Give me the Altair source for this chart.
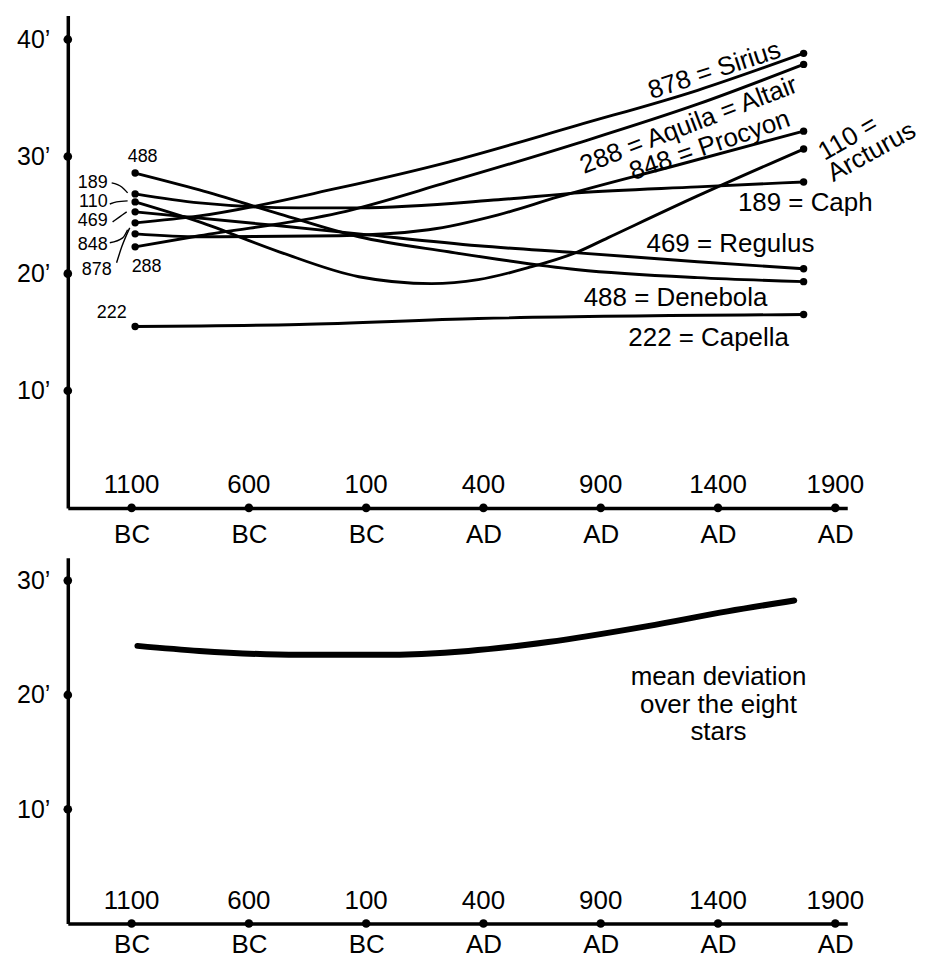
import altair as alt
import pandas as pd

FONT = "Liberation Sans"

# ---------------- axis data ----------------
YEAR_TICKS = [-1100, -600, -100, 400, 900, 1400, 1900]
TICK_NUMBERS = ["1100", "600", "100", "400", "900", "1400", "1900"]
TOP_Y_TICKS = [10, 20, 30, 40]
BOTTOM_Y_TICKS = [10, 20, 30]

# ---------------- star series (year, deviation in arc-minutes) ----------------
sirius_years = [-1085, -811, -216, 251, 803, 1313, 1765]
sirius_vals = [24.34, 24.93, 27.32, 29.53, 32.68, 35.66, 38.81]

altair_years = [-1085, -811, -216, 251, 803, 1313, 1765]
altair_vals = [22.29, 23.24, 25.19, 27.83, 31.15, 34.47, 37.87]

procyon_years = [-1085, -811, -216, 166, 463, 718, 1228, 1765]
procyon_vals = [23.40, 23.15, 23.24, 23.75, 25.02, 26.55, 29.28, 32.17]

arcturus_years = [-1085, -811, -471, -131, 179, 378, 591, 803, 930, 1313, 1765]
arcturus_vals = [26.13, 24.42, 21.87, 19.74, 19.15, 19.49, 20.51, 21.87, 23.06, 26.64, 30.64]

caph_years = [-1085, -811, -386, -131, 463, 803, 1313, 1765]
caph_vals = [26.81, 26.04, 25.62, 25.62, 26.31, 26.90, 27.41, 27.83]

regulus_years = [-1085, -471, -131, 378, 803, 1313, 1765]
regulus_vals = [25.28, 24.09, 23.40, 22.38, 21.78, 21.02, 20.42]

denebola_years = [-1085, -811, -471, -131, 251, 803, 1313, 1765]
denebola_vals = [28.59, 27.15, 25.11, 23.15, 21.87, 20.34, 19.66, 19.32]

capella_years = [-1085, -386, 378, 1765]
capella_vals = [15.49, 15.66, 16.17, 16.51]

# mean deviation over the eight stars
mean_years = [-1075, -811, -386, -46, 336, 676, 1100, 1440, 1725]
mean_vals = [24.29, 23.85, 23.51, 23.51, 23.85, 24.63, 26.02, 27.31, 28.26]

stars = [
    ("878", sirius_years, sirius_vals),
    ("288", altair_years, altair_vals),
    ("848", procyon_years, procyon_vals),
    ("110", arcturus_years, arcturus_vals),
    ("189", caph_years, caph_vals),
    ("469", regulus_years, regulus_vals),
    ("488", denebola_years, denebola_vals),
    ("222", capella_years, capella_vals),
]

# labels at the right end of the curves
right_labels = ["878 = Sirius", "288 = Aquila = Altair", "848 = Procyon", "110 =", "Arcturus",
                "189 = Caph", "469 = Regulus", "488 = Denebola", "222 = Capella"]
right_label_years = [1385, 1275, 1365, 1955, 2055, 1772, 1453, 1219, 1360]
right_label_vals = [37.36, 32.68, 30.95, 31.57, 30.39, 26.04, 22.55, 17.96, 14.47]
right_label_angles = [342, 339, 341, 330, 331, 0, 0, 0, 0]

# small catalogue-number labels at the left
left_right_aligned = ["189", "110", "469", "848", "878"]
left_right_years = [-1202, -1202, -1202, -1202, -1185]
left_right_vals = [27.75, 26.13, 24.51, 22.47, 20.34]
left_centered = ["488", "288", "222"]
left_centered_years = [-1053, -1036, -1185]
left_centered_vals = [29.96, 20.60, 16.60]

# little connector strokes from the left labels to the start points
conn_ids = ["189"] * 3 + ["110"] * 3 + ["469"] * 3 + ["848"] * 3 + ["878"] * 3
conn_years = [-1185, -1142, -1117, -1193, -1164, -1117, -1181, -1151, -1121,
              -1193, -1138, -1117, -1164, -1142, -1108]
conn_vals = [27.75, 27.40, 26.90, 25.95, 26.13, 26.22, 24.42, 24.85, 25.28,
             22.64, 23.06, 23.75, 20.93, 22.29, 23.91]

mean_text = "mean deviation\nover the eight\nstars"
mean_text_year = 1402
mean_text_val = 21.6

# ---------------- tables ----------------
rows = []
ends = []
for name, ys, vs in stars:
    for i, (yr, v) in enumerate(zip(ys, vs)):
        rows.append({"star": name, "year": yr, "value": v, "ord": i})
    ends.append({"star": name, "year": ys[0], "value": vs[0]})
    ends.append({"star": name, "year": ys[-1], "value": vs[-1]})
lines_df = pd.DataFrame(rows)
ends_df = pd.DataFrame(ends)

xdots_df = pd.DataFrame({"year": YEAR_TICKS, "value": [0] * len(YEAR_TICKS), "label": TICK_NUMBERS})
ydots_top_df = pd.DataFrame({"value": TOP_Y_TICKS})
ydots_bot_df = pd.DataFrame({"value": BOTTOM_Y_TICKS})

right_df = pd.DataFrame({"year": right_label_years, "value": right_label_vals,
                         "label": right_labels, "angle": right_label_angles})
left_r_df = pd.DataFrame({"year": left_right_years, "value": left_right_vals, "label": left_right_aligned})
left_c_df = pd.DataFrame({"year": left_centered_years, "value": left_centered_vals, "label": left_centered})
conn_df = pd.DataFrame({"id": conn_ids, "year": conn_years, "value": conn_vals,
                        "ord": [0, 1, 2] * 5})
mean_df = pd.DataFrame({"year": mean_years, "value": mean_vals, "ord": list(range(len(mean_years)))})
mean_text_df = pd.DataFrame({"year": [mean_text_year], "value": [mean_text_val], "label": [mean_text]})

# ---------------- scales & axes ----------------
x_scale = alt.Scale(domain=[-1372, 1951], nice=False, zero=False)
top_y_scale = alt.Scale(domain=[0, 42.04], nice=False, zero=False)
bot_y_scale = alt.Scale(domain=[0, 32], nice=False, zero=False)


def x_axis(pad):
    return alt.Axis(values=YEAR_TICKS, labelExpr="datum.value < 0 ? 'BC' : 'AD'",
                    ticks=False, grid=False, domainColor="black", domainWidth=3.5,
                    labelColor="black", labelFont=FONT, labelFontSize=26, labelPadding=pad,
                    title=None, labelOverlap=False, labelFlush=False)


def y_axis(vals):
    return alt.Axis(values=vals, labelExpr="datum.value + '\u2019'", ticks=False, grid=False,
                    domainColor="black", domainWidth=3.5, labelColor="black", labelFont=FONT,
                    labelFontSize=25, labelPadding=18, title=None)


X_TOP = alt.X("year:Q", scale=x_scale, axis=x_axis(14))
X_BOT = alt.X("year:Q", scale=x_scale, axis=x_axis(8))
Y_TOP = alt.Y("value:Q", scale=top_y_scale, axis=y_axis(TOP_Y_TICKS))
Y_BOT = alt.Y("value:Q", scale=bot_y_scale, axis=y_axis(BOTTOM_Y_TICKS))

W = 782

# ---------------- top panel ----------------
star_lines = alt.Chart(lines_df).mark_line(color="black", strokeWidth=2.9, interpolate="monotone").encode(
    x=X_TOP, y=Y_TOP, detail="star:N", order="ord:Q")
star_ends = alt.Chart(ends_df).mark_circle(color="black", size=55, opacity=1).encode(x=X_TOP, y=Y_TOP)
xdots_top = alt.Chart(xdots_df).mark_circle(color="black", size=75, opacity=1).encode(x=X_TOP, y=Y_TOP)
ydots_top = alt.Chart(ydots_top_df).mark_circle(color="black", size=75, opacity=1).encode(
    x=alt.value(0), y=Y_TOP)
nums_top = alt.Chart(xdots_df).mark_text(font=FONT, fontSize=26, color="black", dy=-15,
                                          baseline="alphabetic", align="center").encode(
    x=X_TOP, y=Y_TOP, text="label:N")
right_text = alt.Chart(right_df).mark_text(font=FONT, fontSize=26, color="black",
                                            align="center", baseline="middle").encode(
    x=X_TOP, y=Y_TOP, text="label:N", angle=alt.Angle("angle:Q", scale=None))
left_r_text = alt.Chart(left_r_df).mark_text(font=FONT, fontSize=18, color="black",
                                              align="right", baseline="middle").encode(
    x=X_TOP, y=Y_TOP, text="label:N")
left_c_text = alt.Chart(left_c_df).mark_text(font=FONT, fontSize=18, color="black",
                                              align="center", baseline="middle").encode(
    x=X_TOP, y=Y_TOP, text="label:N")
connectors = alt.Chart(conn_df).mark_line(color="black", strokeWidth=1.4, interpolate="monotone").encode(
    x=X_TOP, y=Y_TOP, detail="id:N", order="ord:Q")

top = alt.layer(star_lines, connectors, star_ends, xdots_top, ydots_top, nums_top,
                right_text, left_r_text, left_c_text).properties(width=W, height=494)

# ---------------- bottom panel ----------------
mean_line = alt.Chart(mean_df).mark_line(color="black", strokeWidth=6, strokeCap="round",
                                         interpolate="monotone").encode(x=X_BOT, y=Y_BOT, order="ord:Q")
xdots_bot = alt.Chart(xdots_df).mark_circle(color="black", size=75, opacity=1).encode(x=X_BOT, y=Y_BOT)
ydots_bot = alt.Chart(ydots_bot_df).mark_circle(color="black", size=75, opacity=1).encode(
    x=alt.value(0), y=Y_BOT)
nums_bot = alt.Chart(xdots_df).mark_text(font=FONT, fontSize=26, color="black", dy=-15,
                                          baseline="alphabetic", align="center").encode(
    x=X_BOT, y=Y_BOT, text="label:N")
mean_label = alt.Chart(mean_text_df).mark_text(font=FONT, fontSize=26, color="black", align="center",
                                               baseline="middle", lineBreak="\n", lineHeight=28).encode(
    x=X_BOT, y=Y_BOT, text="label:N")

bottom = alt.layer(mean_line, xdots_bot, ydots_bot, nums_bot, mean_label).properties(width=W, height=367)

chart = alt.vconcat(top, bottom, spacing=50, bounds="flush").properties(
    padding={"left": 8, "top": 6, "right": 0, "bottom": 0}
).configure(background="white").configure_view(stroke=None)

chart.save("out.html", embed_options={"renderer": "svg", "actions": False})
